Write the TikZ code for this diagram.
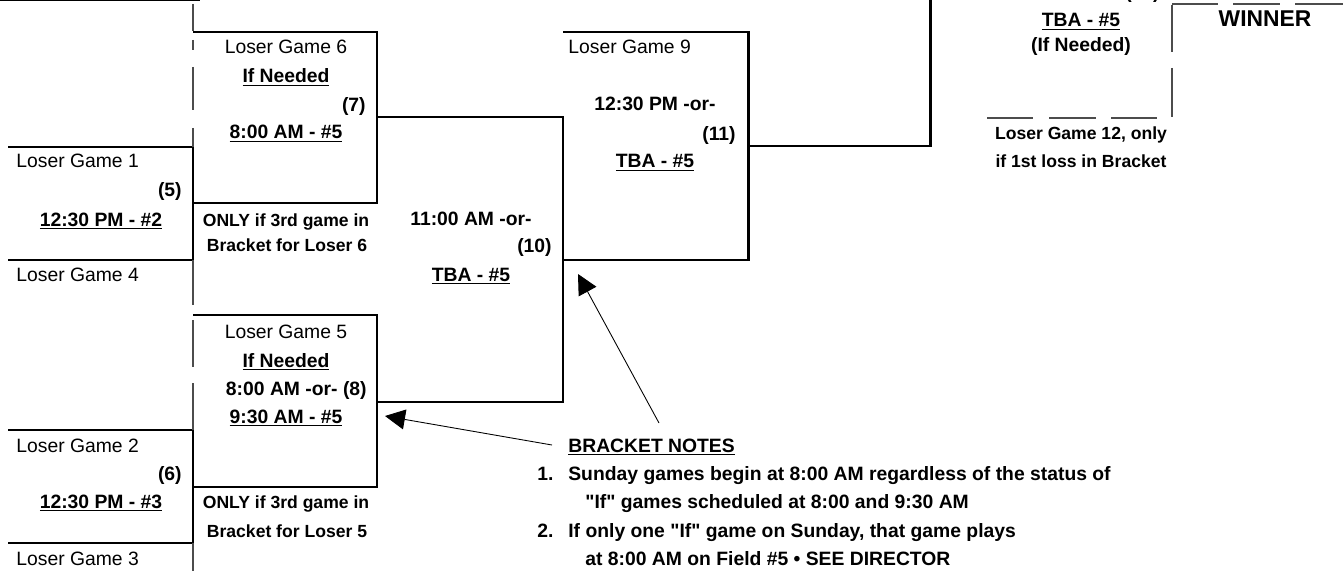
\documentclass[tikz,border=0pt]{standalone}
\usepackage{fontspec}
\setmainfont{Liberation Sans}[Ligatures=TeXOff]
\usetikzlibrary{arrows.meta}

\newcommand{\undl}[1]{\underline{#1}}
\tikzset{
  bline/.style={line width=1.7pt, line join=miter},
  tline/.style={line width=0.6pt, black!70},
  arr/.style={line width=0.5pt, -{Triangle[length=0.4cm, width=0.4cm]}},
  txt/.style={inner sep=0, font=\fontsize{11}{13}\selectfont},
  btxt/.style={inner sep=0, font=\fontsize{11}{13}\selectfont\bfseries},
  stxt/.style={inner sep=0, font=\fontsize{10}{12}\selectfont\bfseries},
}

\begin{document}
\begin{tikzpicture}[x=0.02cm, y=-0.02cm]
    \useasboundingbox (0,0) rectangle (1343,571);
    \clip (0,0) rectangle (1343,571);
    % bracket lines
    \draw[bline] (0,0) -- (200,0);
    \draw[bline] (8,147) -| (193,260) -- (8,260);
    \draw[bline] (8,430) -| (193,543) -- (8,543);
    \draw[bline] (193,32) -| (377,203) -- (193,203);
    \draw[bline] (193,315) -| (377,487) -- (193,487);
    \draw[bline] (377,117) -| (563,402) -- (377,402);
    \draw[bline] (563,32) -| (748,260) -- (563,260);
    \draw[bline] (748,146) -| (930,-10);
    % thin guide lines
    \foreach \a/\b in {4/31, 40/50, 67/110, 128/147, 260/305, 320/367, 383/430, 543/571}
      \draw[tline] (193,\a) -- (193,\b);
    \foreach \a/\b in {5/52, 68/117}
      \draw[tline] (1172,\a) -- (1172,\b);
    \foreach \a/\b in {987/1033, 1049/1096, 1111/1157}
      \draw[tline] (\a,118) -- (\b,118);
    \foreach \a/\b in {1172/1218, 1233/1280, 1295/1343}
      \draw[tline] (\a,4) -- (\b,4);
    % games 5 and 6
    \node[txt, anchor=base west] (lg1) at (16,168) {Loser Game 1};
    \node[btxt, anchor=base east] (no5) at (182,196) {(5)};
    \node[btxt, anchor=base] (tm5) at (101,226) {\undl{12:30 PM - \#2}};
    \node[txt, anchor=base west] (lg4) at (16,281) {Loser Game 4};
    \node[txt, anchor=base west] (lg2) at (16,452) {Loser Game 2};
    \node[btxt, anchor=base east] (no6) at (182,480) {(6)};
    \node[btxt, anchor=base] (tm6) at (101,508) {\undl{12:30 PM - \#3}};
    \node[txt, anchor=base west] (lg3) at (16,565) {Loser Game 3};
    % game 7
    \node[txt, anchor=base] (lg6) at (286,54) {Loser Game 6};
    \node[btxt, anchor=base] (if7) at (286,83) {\undl{If Needed}};
    \node[btxt, anchor=base east] (no7) at (366,112) {(7)};
    \node[btxt, anchor=base] (tm7) at (286,139) {\undl{8:00 AM - \#5}};
    \node[stxt, anchor=base] (on7a) at (286,226) {ONLY if 3rd game in};
    \node[stxt, anchor=base] (on7b) at (287,252) {Bracket for Loser 6};
    % game 8
    \node[txt, anchor=base] (lg5) at (286,338) {Loser Game 5};
    \node[btxt, anchor=base] (if8) at (286,367) {\undl{If Needed}};
    \node[btxt, anchor=base east] (no8) at (367,395) {8:00 AM -or- (8)};
    \node[btxt, anchor=base] (tm8) at (286,423) {\undl{9:30 AM - \#5}};
    \node[stxt, anchor=base] (on8a) at (286,508) {ONLY if 3rd game in};
    \node[stxt, anchor=base] (on8b) at (287,537) {Bracket for Loser 5};
    % game 10
    \node[btxt, anchor=base] (tm10a) at (471,225) {11:00 AM -or-};
    \node[btxt, anchor=base east] (no10) at (552,253) {(10)};
    \node[btxt, anchor=base] (tm10b) at (471,281) {\undl{TBA - \#5}};
    % game 11
    \node[txt, anchor=base west] (lg9) at (568,54) {Loser Game 9};
    \node[btxt, anchor=base] (tm11a) at (655,111) {12:30 PM -or-};
    \node[btxt, anchor=base east] (no11) at (736,141) {(11)};
    \node[btxt, anchor=base] (tm11b) at (655,168) {\undl{TBA - \#5}};
    % game 12 and winner
    \node[btxt, anchor=base east] (no12) at (1160,-1) {(12)};
    \node[btxt, anchor=base] (tm12a) at (1081,27) {\undl{TBA - \#5}};
    \node[btxt, anchor=base] (tm12b) at (1081,52) {(If Needed)};
    \node[stxt, anchor=base] (lg12a) at (1081,140) {Loser Game 12, only};
    \node[stxt, anchor=base] (lg12b) at (1081,168) {if 1st loss in Bracket};
    \node[inner sep=0, font=\fontsize{13}{15}\selectfont\bfseries, anchor=base] (winner) at (1265,27) {WINNER};
    % notes
    \node[btxt, anchor=base west] (notes) at (568,452) {\undl{BRACKET NOTES}};
    \node[btxt, anchor=base west] (nt1) at (537,480) {1.};
    \node[btxt, anchor=base west] (nt1a) at (568,480) {Sunday games begin at 8:00 AM regardless of the status of};
    \node[btxt, anchor=base west] (nt1b) at (585,508) {"If" games scheduled at 8:00 and 9:30 AM};
    \node[btxt, anchor=base west] (nt2) at (537,537) {2.};
    \node[btxt, anchor=base west] (nt2a) at (568,537) {If only one "If" game on Sunday, that game plays};
    \node[btxt, anchor=base west] (nt2b) at (585,565) {at 8:00 AM on Field \#5 • SEE DIRECTOR};
    % pointers
    \coordinate (from8) at (552,445);
    \coordinate (tip8) at (385,416);
    \coordinate (from10) at (659,423);
    \coordinate (tip10) at (578,274);
    \draw[arr] (from8) -- (tip8);
    \draw[arr] (from10) -- (tip10);
\end{tikzpicture}
\end{document}
